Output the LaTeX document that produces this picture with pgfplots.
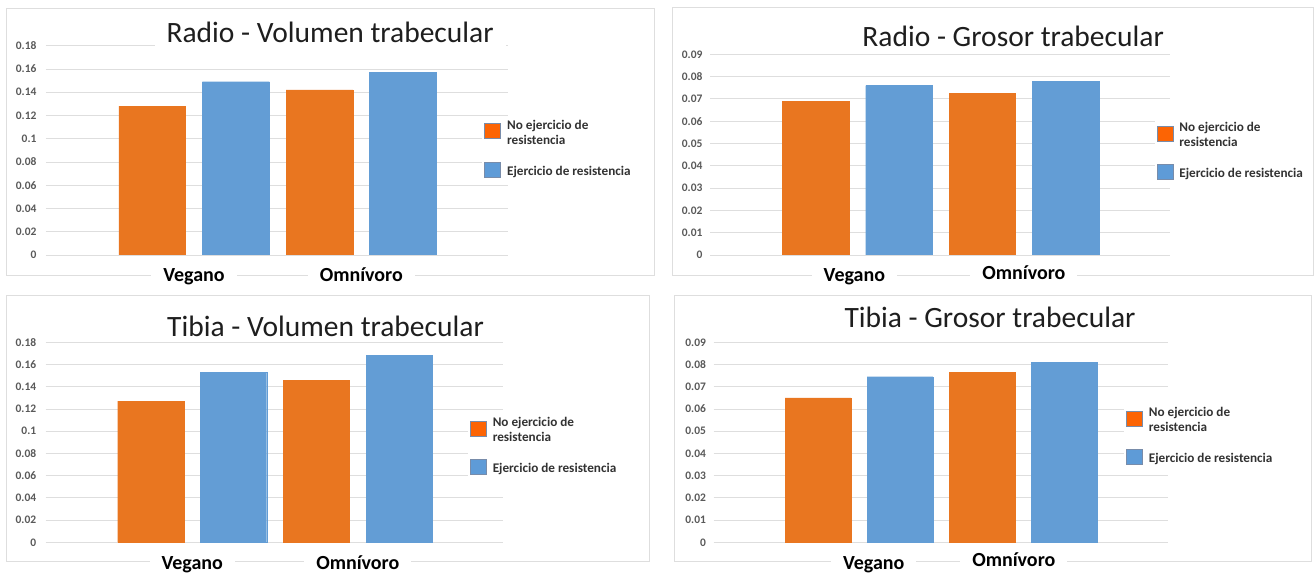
\documentclass[border=0pt]{standalone}
\usepackage{fontspec}
\setmainfont{Carlito}
\usepackage{pgfplots}
\pgfplotsset{compat=1.18}

\definecolor{barorange}{RGB}{233,118,32}
\definecolor{barblue}{RGB}{99,157,213}
\definecolor{legorange}{RGB}{252,100,4}
\definecolor{legblue}{RGB}{94,155,215}
\definecolor{legedge}{RGB}{120,140,170}
\definecolor{gridgray}{RGB}{222,222,222}
\definecolor{boxgray}{RGB}{222,222,222}
\definecolor{tickgray}{RGB}{89,89,89}
\definecolor{titlegray}{RGB}{30,30,30}
\definecolor{leggray}{RGB}{50,50,50}

\pgfplotsset{
  panel/.style={
    scale only axis, ybar, bar width=0.4, ymin=0,
    xmin=0.115, xmax=2.877, enlargelimits=false,
    axis line style={draw=none},
    ymajorgrids, grid style={gridgray, line width=0.9pt},
    major tick length=0pt,
    xtick={1,2}, xticklabels={Vegano,Omnívoro},
    scaled y ticks=false,
    yticklabel style={font=\fontsize{11.5}{13}\selectfont\bfseries, text=tickgray,
      /pgf/number format/fixed, /pgf/number format/precision=2,
      /pgf/number format/assume math mode=true},
    xticklabel style={font=\fontsize{20}{22}\selectfont\bfseries, fill=white,
      inner xsep=12pt, inner ysep=3pt, text height=15pt, text depth=4.5pt,
      anchor=base, yshift=-26.8pt},
    title style={font=\fontsize{29.5}{32}\selectfont, text=titlegray, fill=white,
      inner xsep=12pt, anchor=center},
    legend cell align=left,
    legend style={draw=none, fill=white, text=leggray,
      font=\fontsize{13.2}{15}\selectfont\bfseries,
      cells={align=left}, row sep=14pt, inner sep=2pt, anchor=north west,
      /tikz/every odd column/.append style={column sep=4pt}},
  },
  noex/.style={fill=barorange, draw=barorange, bar shift=-0.25,
    legend image code/.code={\draw[fill=legorange, draw=legedge, line width=0.8pt] (0pt,-6pt) rectangle (16pt,9pt);}},
  siex/.style={fill=barblue, draw=barblue, bar shift=0.25,
    legend image code/.code={\draw[fill=legblue, draw=legedge, line width=0.8pt] (0pt,-6pt) rectangle (16pt,9pt);}},
}

\begin{document}
\begin{tikzpicture}[x=1pt,y=1pt]
\path[use as bounding box, fill=white] (0pt,0pt) rectangle (1315pt,573pt);
% panel frames
\draw[boxgray, line width=0.9pt] (6pt,298pt) rectangle (654pt,565pt);
\draw[boxgray, line width=0.9pt] (672pt,298pt) rectangle (1313pt,566pt);
\draw[boxgray, line width=0.9pt] (6pt,11.3pt) rectangle (649pt,278pt);
\draw[boxgray, line width=0.9pt] (674.6pt,11.3pt) rectangle (1311.6pt,278pt);

% Radio - Volumen trabecular
\begin{axis}[panel, at={(46pt,318pt)}, anchor=south west,
  width=462pt, height=209.3pt, ymax=0.18,
  ytick={0,0.02,0.04,0.06,0.08,0.1,0.12,0.14,0.16,0.18},
  yticklabel style={xshift=-6pt},
  title={Radio - Volumen trabecular},
  title style={at={(axis description cs:0.615,1)}, yshift=7pt},
  legend style={at={(axis description cs:0.944,0.665)}}]
\addplot[noex] coordinates {(1,0.128) (2,0.142)};
\addplot[siex] coordinates {(1,0.149) (2,0.157)};
\addlegendentry{No ejercicio de\\resistencia}
\addlegendentry{Ejercicio de resistencia}
\end{axis}

% Radio - Grosor trabecular
\begin{axis}[panel, at={(710pt,318pt)}, anchor=south west,
  width=460pt, height=200.7pt, ymax=0.09,
  ytick={0,0.01,0.02,0.03,0.04,0.05,0.06,0.07,0.08,0.09},
  yticklabel style={xshift=-4pt},
  xtick={0.982,2},
  xticklabels={Vegano,\raisebox{2.4pt}{Omnívoro}},
  title={Radio - Grosor trabecular},
  title style={at={(axis description cs:0.659,1)}, yshift=11.5pt},
  legend style={at={(axis description cs:0.966,0.68)}}]
\addplot[noex] coordinates {(1,0.069) (2,0.0725)};
\addplot[siex] coordinates {(1,0.076) (2,0.078)};
\addlegendentry{No ejercicio de\\resistencia}
\addlegendentry{Ejercicio de resistencia}
\end{axis}

% Tibia - Volumen trabecular
\begin{axis}[panel, at={(45.7pt,30.7pt)}, anchor=south west,
  width=457.3pt, height=200pt, ymax=0.18,
  ytick={0,0.02,0.04,0.06,0.08,0.1,0.12,0.14,0.16,0.18},
  yticklabel style={xshift=-6pt},
  title={Tibia - Volumen trabecular},
  title style={at={(axis description cs:0.612,1)}, yshift=10pt},
  legend style={at={(axis description cs:0.923,0.645)}}]
\addplot[noex] coordinates {(1,0.127) (2,0.146)};
\addplot[siex] coordinates {(1,0.153) (2,0.168)};
\addlegendentry{No ejercicio de\\resistencia}
\addlegendentry{Ejercicio de resistencia}
\end{axis}

% Tibia - Grosor trabecular
\begin{axis}[panel, at={(713.5pt,30.7pt)}, anchor=south west,
  width=454pt, height=200pt, ymax=0.09,
  ytick={0,0.01,0.02,0.03,0.04,0.05,0.06,0.07,0.08,0.09},
  yticklabel style={xshift=-4pt},
  xtick={1.09,1.942},
  xticklabels={Vegano,\raisebox{2.4pt}{Omnívoro}},
  title={Tibia - Grosor trabecular},
  title style={at={(axis description cs:0.609,1)}, yshift=18.5pt},
  legend style={at={(axis description cs:0.904,0.695)}}]
\addplot[noex] coordinates {(1,0.065) (2,0.0765)};
\addplot[siex] coordinates {(1,0.0745) (2,0.081)};
\addlegendentry{No ejercicio de\\resistencia}
\addlegendentry{Ejercicio de resistencia}
\end{axis}
\end{tikzpicture}
\end{document}
